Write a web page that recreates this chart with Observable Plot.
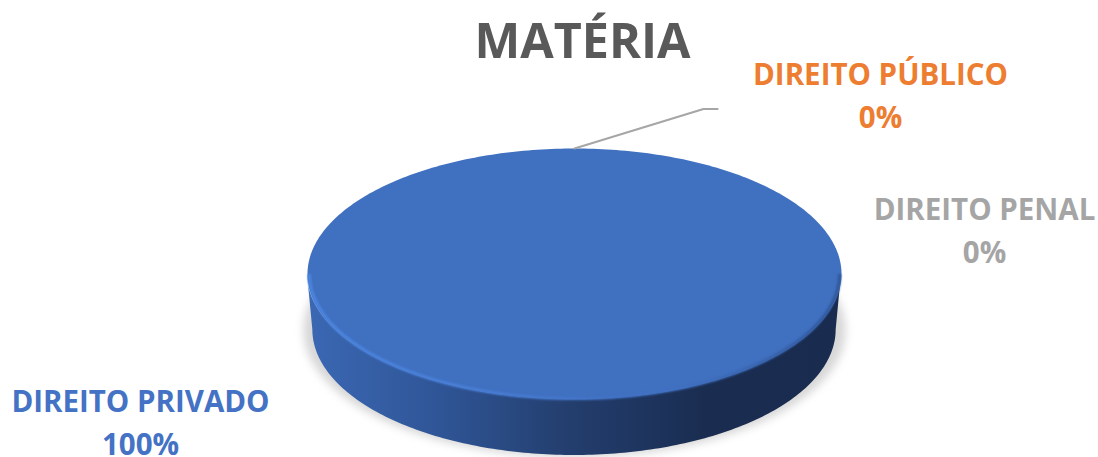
<!DOCTYPE html>
<html>
<head>
<meta charset="utf-8">
<script src="https://cdn.jsdelivr.net/npm/d3@7"></script>
<script src="https://cdn.jsdelivr.net/npm/@observablehq/plot@0.6"></script>
<style>html,body{margin:0;padding:0;background:#fff;overflow:hidden}svg{display:block}</style>
</head>
<body>
<div id="chart"></div>
<script>
const chartTitle = "MATÉRIA";
const categories = ["DIREITO PRIVADO", "DIREITO PÚBLICO", "DIREITO PENAL"];
const shares = [100, 0, 0];
const labelColors = ["#4472C4", "#ED7D31", "#A5A5A5"];
const faceColor = "#4070C0";
const rimStops = [[0, "#3B68B4"], [0.25, "#2F5596"], [0.5, "#233D6C"], [0.62, "#1E3560"], [0.75, "#1A2D50"], [1, "#192B4E"]];
const bevelStops = [[0, "#4C88E4"], [0.3, "#4A80D8"], [0.55, "#4272C4"], [0.7, "#4070C0"], [1, "#2F5596"]];

// Geometry of the tilted disc, in disc units (radius = 1)
const depth = 0.446;      // extrusion of the rim
const taper = 0.98;       // the base looks slightly narrower than the face
const inset = 0.993;      // the soft bevel sits just inside the face's edge
const turn = d3.range(0, 361, 1).map(d => d * Math.PI / 180);
const front = turn.filter(t => t >= Math.PI - 1e-9);

// The only non-empty slice fills the whole turn; share drives the sweep.
const total = d3.sum(shares);
const face = turn.filter(t => t <= 2 * Math.PI * shares[0] / total + 1e-9)
  .map(t => ({x: Math.cos(t), y: Math.sin(t)}));
const rim = front.map(t => ({
  x1: Math.cos(t), y1: Math.sin(t),
  x2: taper * Math.cos(t), y2: Math.sin(t) - depth
}));
const edge = front.map(t => ({x: inset * Math.cos(t), y: inset * Math.sin(t)}));
const shadow = turn.map(t => ({x: 1.015 * Math.cos(t), y: 1.015 * Math.sin(t) - depth}));
const leader = [{x: 0, y: 1}, {x: 0.483, y: 1.315}, {x: 0.536, y: 1.315}];

const labels = categories.map((c, i) => ({text: `${c}\n${shares[i]}%`, color: labelColors[i]}));

function gradient(id, stops) {
  const g = d3.create("svg:linearGradient").attr("id", id);
  stops.forEach(([o, c]) => g.append("stop").attr("offset", o).attr("stop-color", c));
  return g.node();
}
const defs = () => {
  const d = d3.create("svg:defs");
  d.node().append(gradient("rimFill", rimStops), gradient("bevelStroke", bevelStops));
  return d.node();
};

const font = "'Open Sans', sans-serif";
const label = (i, dx, dy) => Plot.text([labels[i]], {
  text: "text", fill: "color", frameAnchor: "top-left", dx, dy,
  textAnchor: "middle", lineAnchor: "top", lineHeight: 1.46,
  fontFamily: font, fontWeight: 700, fontSize: 29.5
});

const plot = Plot.plot({
  width: 1098, height: 457,
  margin: 0,
  style: {background: "#fff", overflow: "hidden"},
  x: {domain: [-1, 1], range: [307, 841], axis: null},
  y: {domain: [-1, 1], range: [399, 148], axis: null},
  marks: [
    defs,
    Plot.line(shadow, {x: "x", y: "y", fill: "#BDBDBD", stroke: "none", imageFilter: "blur(4px)", fillOpacity: 0.6}),
    Plot.area(rim, {x1: "x1", y1: "y1", x2: "x2", y2: "y2", fill: "url(#rimFill)"}),
    Plot.line(face, {x: "x", y: "y", fill: faceColor, stroke: "none"}),
    Plot.line(edge, {x: "x", y: "y", stroke: "url(#bevelStroke)", strokeWidth: 3, strokeLinecap: "butt", imageFilter: "blur(1px)"}),
    Plot.line(leader, {x: "x", y: "y", stroke: "#A6A6A6", strokeWidth: 2, curve: "linear"}),
    Plot.text([chartTitle], {
      text: d => d, frameAnchor: "top-left", dx: 582, dy: 23,
      textAnchor: "middle", lineAnchor: "top",
      fill: "#595959", fontFamily: font, fontWeight: 700, fontSize: 48.5
    }),
    label(0, 140, 381),
    label(1, 880, 54),
    label(2, 984, 189)
  ]
});
document.getElementById("chart").append(plot);
</script>
</body>
</html>
